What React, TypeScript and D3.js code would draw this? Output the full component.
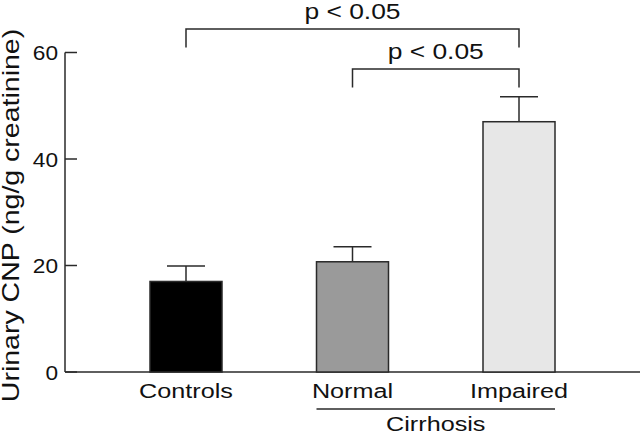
import React from "react";
import * as d3 from "d3";

const categories = ["Controls", "Normal", "Impaired"];
const means = [17.0, 20.7, 47.0];
const errors = [2.9, 2.8, 4.7];
const fills = ["#000000", "#9a9a9a", "#e7e7e7"];
const yTicks = [0, 20, 40, 60];
const groupLabel = "Cirrhosis";
const yLabel = "Urinary CNP (ng/g creatinine)";
const comparisons = [
  { from: "Controls", to: "Impaired", level: 64.4, label: "p < 0.05" },
  { from: "Normal", to: "Impaired", level: 56.9, label: "p < 0.05" },
];

const W = 640;
const H = 436;
const FONT = "'Liberation Sans', Arial, Helvetica, sans-serif";
const INK = "#2a2a2a";

export default function App() {
  const y = d3.scaleLinear().domain([0, 60]).range([372, 52.5]);
  const x = d3.scalePoint<string>().domain(categories).range([186, 519]);
  const barW = 72;
  const capW = 38;
  const axisX = 65;
  const legDrop = 18.5;

  const hText = (
    tx: number,
    ty: number,
    s: string,
    size: number,
    sx = 1.2,
    key?: string
  ) => (
    <text
      key={key}
      transform={`translate(${tx},${ty}) scale(${sx},1)`}
      textAnchor="middle"
      fontFamily={FONT}
      fontSize={size}
      fill="#111"
    >
      {s}
    </text>
  );

  return (
    <svg
      width={W}
      height={H}
      style={{ position: "absolute", left: 0, top: 0, background: "#fff" }}
    >
      {/* y axis */}
      <line x1={axisX} x2={axisX} y1={y(60)} y2={y(0)} stroke={INK} strokeWidth={1.5} />
      {yTicks.map((t) => (
        <g key={t}>
          <line x1={axisX} x2={axisX + 12} y1={y(t)} y2={y(t)} stroke={INK} strokeWidth={1.5} />
          <text
            transform={`translate(${axisX - 7},${y(t) + 7.5}) scale(1.08,1)`}
            textAnchor="end"
            fontFamily={FONT}
            fontSize={21}
            fill="#111"
          >
            {t}
          </text>
        </g>
      ))}
      {/* x axis */}
      <line x1={axisX} x2={W} y1={y(0)} y2={y(0)} stroke={INK} strokeWidth={1.5} />

      {/* bars */}
      {categories.map((c, i) => {
        const cx = x(c)!;
        return (
          <g key={c}>
            <line
              x1={cx}
              x2={cx}
              y1={y(means[i])}
              y2={y(means[i] + errors[i])}
              stroke={INK}
              strokeWidth={1.5}
            />
            <line
              x1={cx - capW / 2}
              x2={cx + capW / 2}
              y1={y(means[i] + errors[i])}
              y2={y(means[i] + errors[i])}
              stroke={INK}
              strokeWidth={1.5}
            />
            <rect
              x={cx - barW / 2}
              y={y(means[i])}
              width={barW}
              height={y(0) - y(means[i])}
              fill={fills[i]}
              stroke={INK}
              strokeWidth={1.5}
            />
            {hText(cx, 397.5, c, 21, 1.2)}
          </g>
        );
      })}

      {/* group line */}
      <line
        x1={x("Normal")! - barW / 2}
        x2={x("Impaired")! + barW / 2}
        y1={409}
        y2={409}
        stroke={INK}
        strokeWidth={1.5}
      />
      {hText((x("Normal")! + x("Impaired")!) / 2, 431, groupLabel, 21, 1.2)}

      {/* comparison brackets */}
      {comparisons.map((cmp, i) => {
        const x1 = x(cmp.from)!;
        const x2 = x(cmp.to)!;
        const yy = y(cmp.level);
        return (
          <g key={i}>
            <path
              d={`M${x1},${yy + legDrop}V${yy}H${x2}V${yy + legDrop}`}
              fill="none"
              stroke={INK}
              strokeWidth={1.5}
            />
            {hText((x1 + x2) / 2, yy - 10.5, cmp.label, 22, 1.2)}
          </g>
        );
      })}

      {/* y label */}
      <text
        transform={`translate(19,215.5) rotate(-90) scale(1.24,1)`}
        textAnchor="middle"
        fontFamily={FONT}
        fontSize={23}
        fill="#111"
      >
        {yLabel}
      </text>
    </svg>
  );
}
